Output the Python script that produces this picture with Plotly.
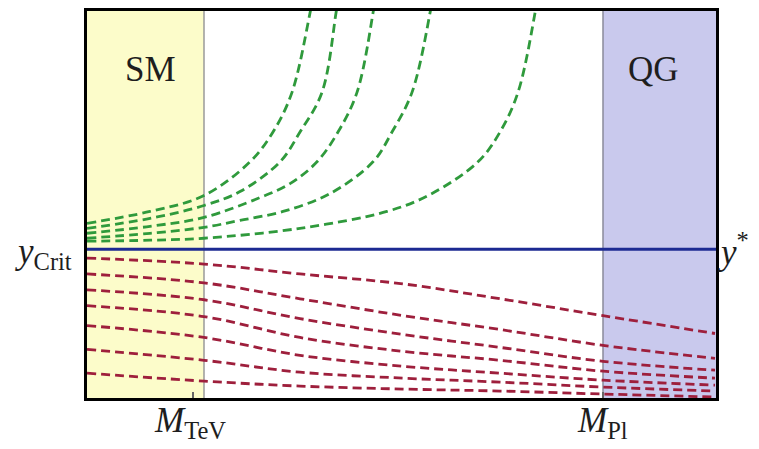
import plotly.graph_objects as go

# ---- data (x: scale position, y: coupling value; arbitrary linear units)
x_range = [0, 629]
y_range = [0, 390]
x_tev = 117          # boundary of SM region
x_pl = 516           # boundary of QG region
x_tick_tev = 106
y_star = 150

green_x = [
    [0, 63, 117, 163, 186, 205, 223, 227],
    [0, 63, 117, 153, 193, 213, 235, 249, 252],
    [0, 63, 117, 173, 203, 230, 251, 270, 286, 289],
    [0, 63, 117, 153, 196, 243, 286, 305, 325, 343, 346],
    [0, 63, 117, 213, 300, 343, 391, 413, 431, 448, 451],
]
green_y = [
    [176, 188, 204, 238, 268, 308, 388, 410],
    [171, 181, 194, 208, 238, 268, 308, 388, 408],
    [166, 173, 182, 202, 216, 238, 268, 308, 388, 410],
    [161, 166, 172, 179, 188, 206, 238, 268, 308, 388, 408],
    [158, 159, 161, 171, 188, 205, 238, 268, 308, 388, 408],
]

red_x = [0, 117, 213, 316, 413, 516, 628]
red_y = [
    [141, 135, 125, 115, 100, 83, 65],
    [125, 116, 100, 83, 69, 53, 40],
    [109, 99, 80, 64, 51, 37, 28],
    [93, 82, 61, 47, 38, 27, 20],
    [73, 61, 43, 32, 25, 18, 13],
    [49, 38, 26, 20, 16, 11, 7],
    [25, 17, 12, 9, 7, 4, 1],
]

SERIF = "Liberation Serif"
GREEN = "#2f9a3c"
RED = "#9e1f3c"
BLUE = "#1c2a92"
TXT = "#1e1e1e"


def px(x):
    return (x - x_range[0]) / (x_range[1] - x_range[0])


def py(y):
    return (y - y_range[0]) / (y_range[1] - y_range[0])


fig = go.Figure()

for gx, gy in zip(green_x, green_y):
    fig.add_trace(go.Scatter(x=gx, y=gy, mode="lines",
                             line=dict(color=GREEN, width=2.8, dash="9px,5px", shape="spline"),
                             hoverinfo="skip", showlegend=False))
for ry in red_y:
    fig.add_trace(go.Scatter(x=red_x, y=ry, mode="lines",
                             line=dict(color=RED, width=2.8, dash="9px,5px", shape="spline"),
                             hoverinfo="skip", showlegend=False))

fig.add_trace(go.Scatter(x=x_range, y=[y_star, y_star], mode="lines",
                         line=dict(color=BLUE, width=3), hoverinfo="skip", showlegend=False))

shapes = [
    dict(type="rect", xref="x", yref="y", x0=x_range[0], x1=x_tev, y0=y_range[0], y1=y_range[1],
         fillcolor="rgb(252,252,202)", line=dict(width=0), layer="below"),
    dict(type="rect", xref="x", yref="y", x0=x_pl, x1=x_range[1], y0=y_range[0], y1=y_range[1],
         fillcolor="rgb(201,201,237)", line=dict(width=0), layer="below"),
    dict(type="line", xref="x", yref="y", x0=x_tev, x1=x_tev, y0=y_range[0], y1=y_range[1],
         line=dict(color="#9a9a9a", width=1.5), layer="below"),
    dict(type="line", xref="x", yref="y", x0=x_pl, x1=x_pl, y0=y_range[0], y1=y_range[1],
         line=dict(color="#8a8a9a", width=1.5), layer="below"),
]

font_big = dict(family=SERIF, size=35, color=TXT)


def label(x, y, text):
    return dict(x=px(x), y=py(y), xref="paper", yref="paper", text=text, showarrow=False,
                xanchor="center", yanchor="middle", font=font_big)


annotations = [
    label(63, 331, "SM"),
    label(566, 331, "QG"),
    label(-44, 146, "<i>y</i><sub>Crit</sub>"),
    label(646, 150, "<i>y</i><sup>*</sup>"),
    label(103, -25, "<i>M</i><sub>TeV</sub>"),
    label(515, -25, "<i>M</i><sub>Pl</sub>"),
]

fig.update_layout(
    width=759, height=449,
    margin=dict(l=87, r=43, t=8, b=51),
    paper_bgcolor="white", plot_bgcolor="white",
    shapes=shapes, annotations=annotations,
    showlegend=False,
    xaxis=dict(range=x_range, showgrid=False, zeroline=False, showline=True, mirror=True,
               linecolor="black", linewidth=3, ticks="inside", ticklen=6, tickwidth=1.5,
               tickcolor="#666", tickvals=[x_tick_tev, x_pl], showticklabels=False, fixedrange=True),
    yaxis=dict(range=y_range, showgrid=False, zeroline=False, showline=True, mirror=True,
               linecolor="black", linewidth=3, ticks="", showticklabels=False, fixedrange=True),
)

fig.write_html("out.html", config={"displayModeBar": False},
               post_script="document.body.style.margin='0';")
